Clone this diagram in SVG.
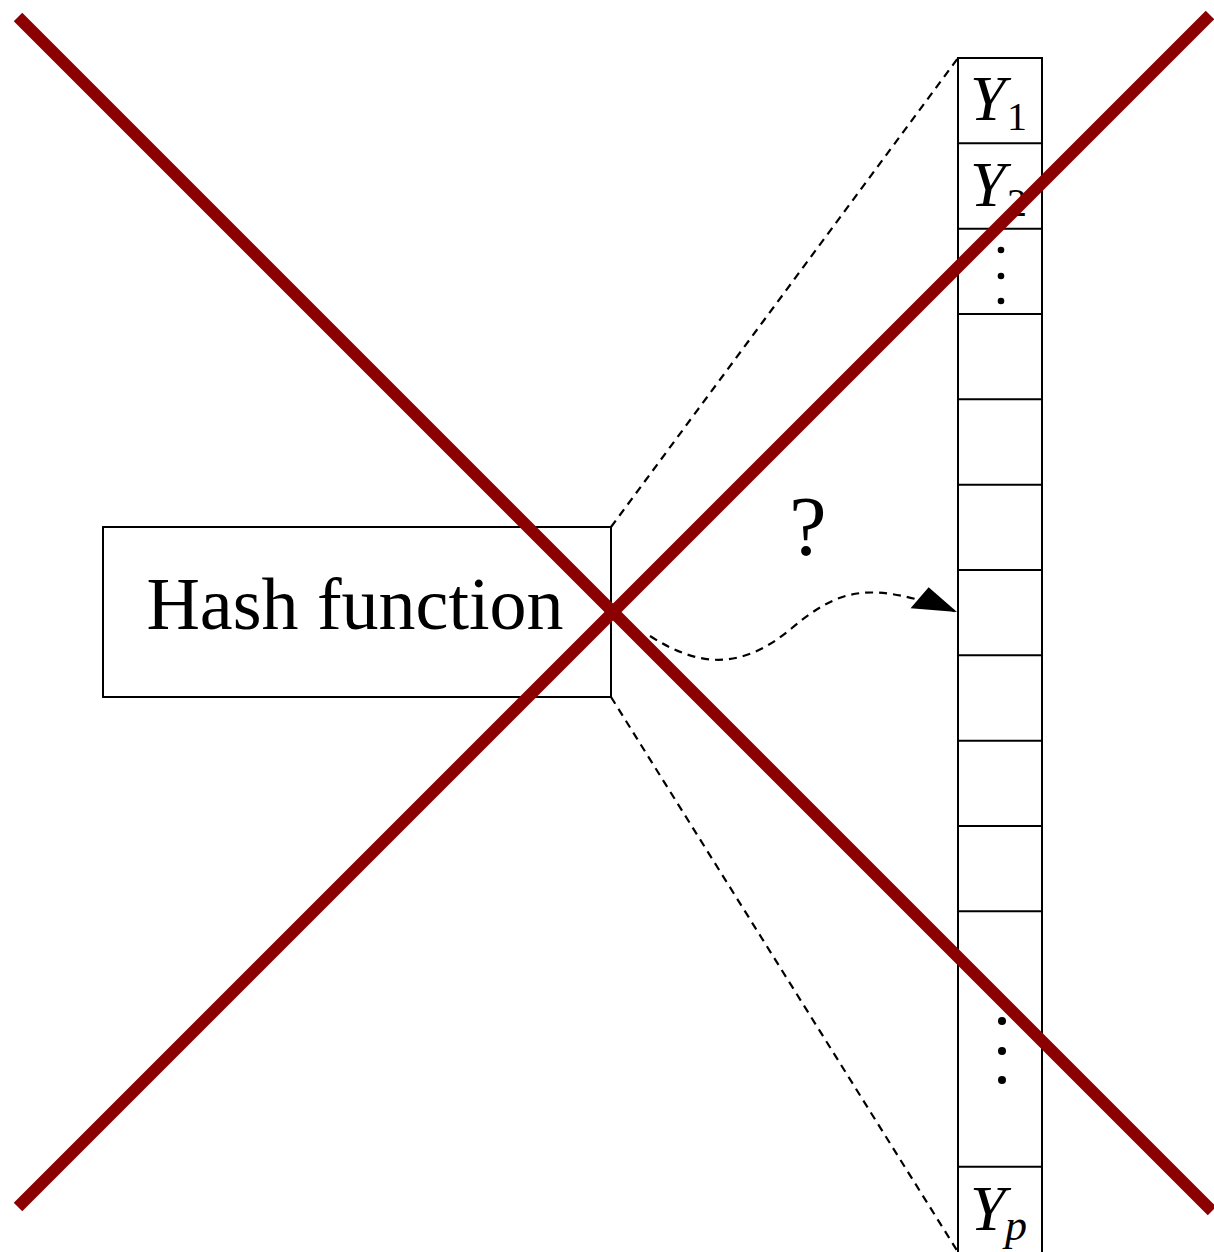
<svg xmlns="http://www.w3.org/2000/svg" width="1214" height="1252" viewBox="0 0 1214 1252">
<style>
.box{fill:#fff;stroke:#000;stroke-width:2}
.cell{fill:none;stroke:#000;stroke-width:2}
.dash{fill:none;stroke:#000;stroke-width:2.2;stroke-dasharray:8,6}
.serif{font-family:"Liberation Serif","Times New Roman",serif;fill:#000}
.y{font-style:italic;font-size:64px}
.sub{font-size:40px}
.subi{font-style:italic;font-size:44px}
.cross{stroke:#8b0000;stroke-width:12;fill:none}
</style>
<defs>
<marker id="tri" viewBox="0 0 46 28" refX="45" refY="14" markerUnits="userSpaceOnUse" markerWidth="46" markerHeight="28" orient="auto">
<path d="M0,26 L10,0 L45,14 Z" fill="#000"/>
</marker>
</defs>
<rect width="1214" height="1252" fill="#fff"/>
<g id="connectors">
<line class="dash" x1="611" y1="527" x2="958" y2="58"/>
<line class="dash" x1="611" y1="697" x2="958" y2="1252"/>
<path class="dash" d="M650,636 C700,668 742,670 792,628 S 872,582 957,612" marker-end="url(#tri)"/>
</g>
<g id="hash">
<rect class="box" x="103" y="527" width="508" height="170"/>
<text class="serif" x="355" y="629" font-size="74" text-anchor="middle">Hash function</text>
</g>
<g id="table">
<rect class="cell" x="958" y="58" width="84" height="1200"/>
<g class="cell">
<line x1="958" y1="143.3" x2="1042" y2="143.3"/>
<line x1="958" y1="228.7" x2="1042" y2="228.7"/>
<line x1="958" y1="314" x2="1042" y2="314"/>
<line x1="958" y1="399.3" x2="1042" y2="399.3"/>
<line x1="958" y1="484.7" x2="1042" y2="484.7"/>
<line x1="958" y1="570" x2="1042" y2="570"/>
<line x1="958" y1="655.3" x2="1042" y2="655.3"/>
<line x1="958" y1="740.7" x2="1042" y2="740.7"/>
<line x1="958" y1="826" x2="1042" y2="826"/>
<line x1="958" y1="911.3" x2="1042" y2="911.3"/>
<line x1="958" y1="1166.7" x2="1042" y2="1166.7"/>
</g>
<text class="serif" x="970" y="120"><tspan class="y">Y</tspan><tspan class="sub" x="1007" y="130">1</tspan></text>
<text class="serif" x="970" y="206"><tspan class="y">Y</tspan><tspan class="sub" x="1007" y="216">2</tspan></text>
<g fill="#000">
<circle cx="1001" cy="250" r="3.3"/>
<circle cx="1001" cy="276" r="3.3"/>
<circle cx="1001" cy="301" r="3.3"/>
<circle cx="1002" cy="1021" r="4"/>
<circle cx="1002" cy="1051" r="4"/>
<circle cx="1002" cy="1080" r="4"/>
</g>
<text class="serif" x="970" y="1230"><tspan class="y">Y</tspan><tspan class="subi" x="1005" y="1240">p</tspan></text>
</g>
<g id="question">
<text class="serif" x="808" y="555" font-size="84" text-anchor="middle">?</text>
</g>
<g id="cross">
<line class="cross" x1="18" y1="17" x2="1212" y2="1211"/>
<line class="cross" x1="18" y1="1207" x2="1210" y2="15"/>
</g>
</svg>
